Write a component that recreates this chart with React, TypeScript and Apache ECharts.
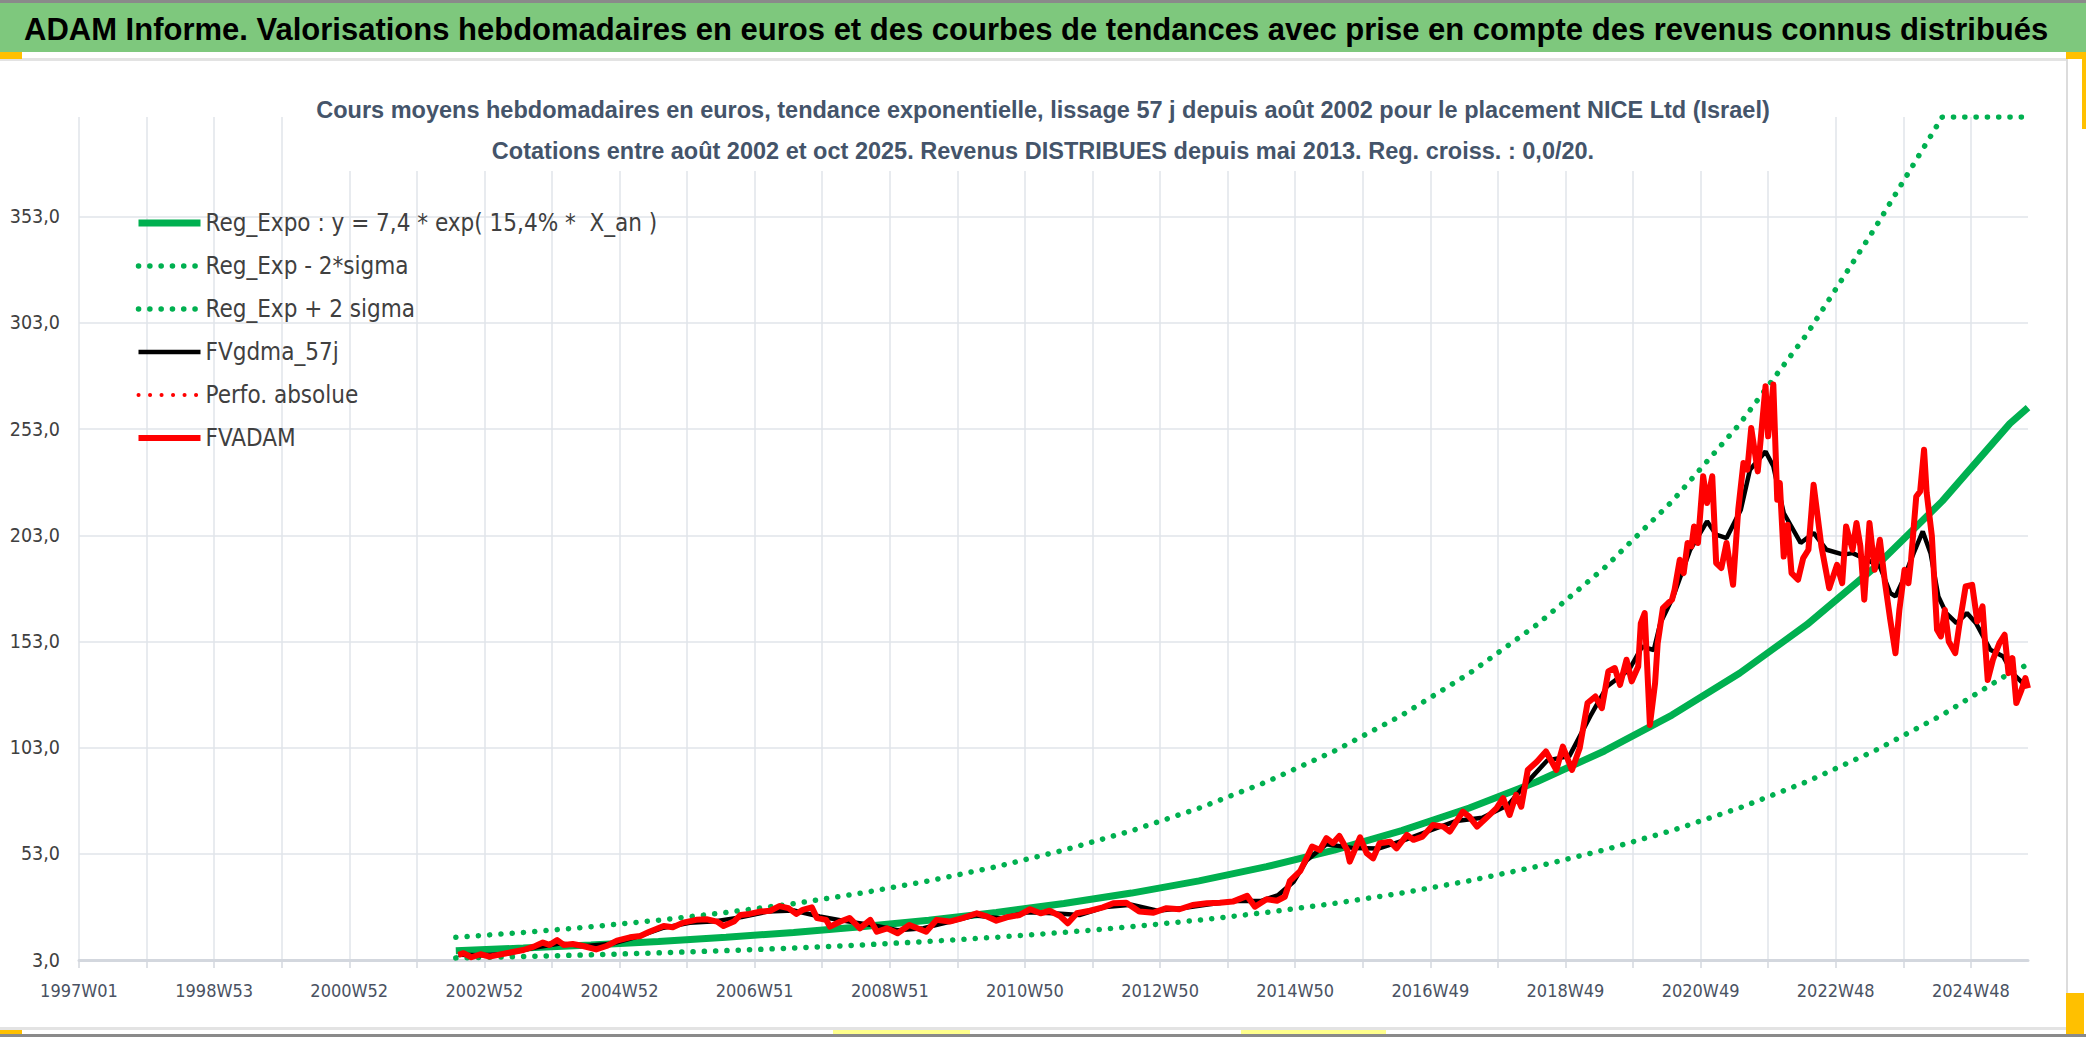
import React, { useEffect, useRef } from "react";
import * as echarts from "echarts";

const TITLE =
  "ADAM Informe. Valorisations hebdomadaires en euros et des courbes de tendances avec prise en compte des revenus connus distribués";
const SUBTITLE_1 =
  "Cours moyens hebdomadaires en euros, tendance exponentielle, lissage 57 j depuis août 2002 pour le placement NICE Ltd (Israel)";
const SUBTITLE_2 =
  "Cotations entre août 2002 et oct 2025. Revenus DISTRIBUES depuis mai 2013. Reg. croiss. : 0,0/20.";

const SERIES_NAMES = [
  "Reg_Expo : y = 7,4 * exp( 15,4% *  X_an )",
  "Reg_Exp - 2*sigma",
  "Reg_Exp + 2 sigma",
  "FVgdma_57j",
  "Perfo. absolue",
  "FVADAM",
];

// x axis: week index counted from 1997W01
const X_MAX = 1500;
const X_TICKS = [
  0, 52, 104, 156, 208, 260, 312, 364, 416, 468, 520, 572, 624, 676, 728, 780,
  832, 884, 936, 988, 1040, 1092, 1144, 1196, 1248, 1300, 1352, 1404, 1456,
];
const X_LABEL_WEEKS = [
  0, 104, 208, 312, 416, 520, 624, 728, 832, 936, 1040, 1144, 1248, 1352, 1456,
];
const X_LABELS = [
  "1997W01", "1998W53", "2000W52", "2002W52", "2004W52", "2006W51", "2008W51",
  "2010W50", "2012W50", "2014W50", "2016W49", "2018W49", "2020W49", "2022W48",
  "2024W48",
];
const Y_TICKS = [3, 53, 103, 153, 203, 253, 303, 353];

// regression curves (yearly reads)
const REG_WEEKS = [
  290, 342, 394, 446, 498, 550, 602, 654, 706, 758, 810, 862, 914, 966, 1018,
  1070, 1122, 1174, 1226, 1278, 1330, 1382, 1434, 1486, 1500,
];
const REG_VALUES = [
  7.4, 8.63, 10.07, 11.75, 13.7, 15.98, 18.64, 21.75, 25.37, 29.59, 34.52,
  40.27, 46.97, 54.79, 63.91, 74.56, 86.97, 101.45, 118.34, 138.04, 161.02,
  187.83, 219.1, 255.58, 263.1,
];
const REG_LOWER = [
  4.0, 4.66, 5.44, 6.35, 7.41, 8.64, 10.08, 11.76, 13.71, 15.99, 18.66, 21.77,
  25.39, 29.62, 34.55, 40.3, 47.01, 54.84, 63.97, 74.62, 87.04, 101.53, 118.43,
  138.15, 142.2,
];
const REG_UPPER = [
  13.69, 15.97, 18.63, 21.74, 25.35, 29.56, 34.48, 40.24, 46.93, 54.74, 63.86,
  74.5, 86.89, 101.36, 118.23, 137.94, 160.89, 187.68, 218.93, 255.37, 297.89,
  347.49, 400, 400, 400,
];

const FVADAM_WEEKS = [
  292, 296, 302, 309, 316, 329, 342, 350, 357, 362, 368, 373, 380, 388, 398,
  406, 414, 424, 432, 439, 450, 457, 465, 475, 483, 491, 496, 504, 509, 516,
  524, 532, 539, 546, 552, 557, 564, 568, 575, 578, 586, 593, 601, 609, 614,
  622, 630, 639, 652, 660, 670, 680, 691, 698, 706, 714, 724, 732, 740, 747,
  755, 761, 768, 778, 788, 796, 806, 816, 827, 837, 847, 857, 868, 878, 888,
  899, 905, 914, 922, 928, 932, 940, 949, 955, 960, 965, 970, 976, 978, 986,
  991, 996, 1001, 1009, 1014, 1022, 1027, 1034, 1042, 1050, 1055, 1065, 1070,
  1076, 1083, 1091, 1096, 1101, 1106, 1110, 1115, 1122, 1129, 1137, 1142, 1149,
  1155, 1161, 1167, 1172, 1177, 1182, 1186, 1191, 1195, 1200, 1202, 1205, 1209,
  1213, 1215, 1219, 1223, 1226, 1228, 1232, 1235, 1238, 1241, 1243, 1246, 1250,
  1253, 1257, 1260, 1264, 1268, 1273, 1277, 1281, 1284, 1287, 1292, 1298, 1300,
  1304, 1307, 1309, 1312, 1315, 1318, 1323, 1327, 1331, 1335, 1341, 1347, 1353,
  1357, 1360, 1365, 1368, 1371, 1374, 1378, 1382, 1386, 1390, 1394, 1398, 1401,
  1405, 1408, 1410, 1414, 1417, 1420, 1422, 1426, 1430, 1433, 1436, 1439, 1444,
  1447, 1452, 1457, 1461, 1465, 1469, 1473, 1478, 1482, 1485, 1488, 1491, 1495,
  1498, 1500,
];
const FVADAM_VALUES = [
  5.4, 6.2, 4.3, 5.7, 4.6, 6.2, 7.7, 9.3, 11.2, 10.1, 12.4, 10.1, 10.5, 9.6,
  8.0, 9.6, 12.1, 13.7, 14.3, 16.3, 19.0, 18.4, 20.6, 21.9, 22.2, 21.1, 19.0,
  21.1, 24.2, 24.7, 25.8, 26.2, 28.4, 27.4, 24.7, 26.6, 27.8, 22.7, 21.9, 18.7,
  21.1, 22.8, 17.9, 21.9, 16.3, 17.9, 15.6, 19.5, 16.3, 21.9, 21.1, 22.7, 25.0,
  23.7, 21.5, 23.1, 24.2, 26.9, 25.0, 26.2, 23.7, 20.3, 25.0, 26.2, 27.8, 29.7,
  30.0, 25.8, 25.3, 27.4, 26.9, 28.9, 29.7, 30.0, 30.5, 33.2, 28.1, 31.6, 30.9,
  32.8, 40.3, 45.0, 56.4, 54.8, 60.4, 58.0, 61.4, 54.8, 49.3, 60.8, 53.3, 50.9,
  58.0, 58.7, 55.6, 61.9, 59.6, 61.1, 66.6, 65.8, 63.5, 72.9, 70.5, 65.8, 69.8,
  74.5, 79.2, 71.3, 80.8, 75.2, 92.5, 96.4, 101.2, 92.5, 103.5, 92.5, 102.8,
  124.0, 127.1, 121.6, 138.9, 140.5, 132.6, 144.4, 134.2, 141.2, 161.6, 166.4,
  113.7, 133.4, 152.2, 168.7, 171.1, 172.7, 177.4, 191.5, 185.2, 199.4, 197.8,
  207.2, 199.4, 230.8, 218.2, 230.8, 189.9, 187.6, 199.4, 179.7, 215.1, 237.1,
  233.9, 253.5, 233.1, 273.2, 249.6, 274.0, 219.8, 227.6, 193.0, 208.0, 185.2,
  182.1, 192.3, 196.2, 226.8, 197.8, 178.1, 189.1, 180.5, 207.2, 196.2, 208.8,
  197.8, 172.7, 208.8, 186.8, 200.9, 180.5, 163.2, 147.5, 167.9, 186.8, 180.5,
  191.5, 221.3, 223.7, 243.3, 223.1, 202.7, 158.5, 155.4, 167.9, 153.0, 147.5,
  160.1, 178.9, 179.7, 162.4, 169.5, 134.9, 144.4, 152.2, 156.2, 138.1, 145.2,
  124.0, 130.2, 135.8, 131.0,
];

const FVGDMA_WEEKS = [
  292, 310, 330, 350, 370, 390, 410, 430, 450, 470, 490, 510, 530, 550, 570,
  590, 610, 630, 650, 670, 690, 710, 730, 750, 770, 790, 810, 830, 850, 870,
  890, 910, 923, 935, 945, 960, 980, 1000, 1020, 1040, 1060, 1080, 1100, 1115,
  1130, 1147, 1163, 1176, 1193, 1203, 1212, 1217, 1227, 1240, 1253, 1260, 1268,
  1279, 1286, 1298, 1304, 1312, 1325, 1335, 1345, 1358, 1365, 1376, 1386, 1394,
  1398, 1404, 1412, 1419, 1425, 1431, 1437, 1445, 1453, 1460, 1471, 1481, 1488,
  1496, 1500,
];
const FVGDMA_VALUES = [
  5.5, 5.2, 6.0, 8.8, 10.8, 9.6, 10.6, 14.0, 18.2, 20.5, 21.3, 23.2, 25.8, 26.3,
  23.5, 21.3, 19.5, 17.0, 18.0, 21.0, 24.0, 22.6, 25.5, 25.0, 24.2, 28.0, 29.0,
  26.2, 27.5, 29.2, 30.8, 30.8, 33.6, 40.0, 50.0, 57.5, 55.8, 55.5, 59.5, 64.0,
  68.5, 70.0, 76.0, 87.0, 97.0, 99.0, 117.7, 131.8, 139.7, 150.6, 149.0, 161.6,
  174.2, 196.2, 209.6, 203.3, 201.7, 215.1, 233.9, 242.5, 235.5, 213.5, 199.4,
  204.1, 196.2, 193.9, 194.6, 191.5, 188.3, 175.8, 174.2, 182.1, 194.6, 204.8,
  194.6, 174.2, 166.4, 161.6, 166.4, 161.6, 149.1, 145.9, 138.1, 133.4, 132.0,
];

const PERFO_WEEKS: number[] = [];
const PERFO_VALUES: number[] = [];

const FONT = '"Liberation Sans", Arial, sans-serif';
const FONT_N =
  '"Liberation Sans Narrow", "Arial Narrow", "DejaVu Sans Condensed", sans-serif';

const zip = (xs: number[], ys: number[]) => xs.map((x, i) => [x, ys[i]]);

const labelFor = (v: number) => {
  const i = X_LABEL_WEEKS.indexOf(Math.round(v));
  return i >= 0 ? X_LABELS[i] : "";
};

const GREEN = "#00b050";
const RED = "#ff0000";

const STYLE_REG = { color: GREEN, width: 7, type: "solid" };
const STYLE_BAND = { color: GREEN, width: 5.5, type: [0.1, 11.2], cap: "round" };
const STYLE_GDMA = { color: "#000000", width: 4.5, type: "solid" };
const STYLE_PERFO = { color: RED, width: 4, type: [0.1, 11.4], cap: "round" };
const STYLE_ADAM = { color: RED, width: 6, type: "solid", join: "round" };
const LEGEND_STYLES = [STYLE_REG, STYLE_BAND, STYLE_BAND, STYLE_GDMA, STYLE_PERFO, STYLE_ADAM];

function buildOption(): any {
  const rect = (x: number, y: number, w: number, h: number, fill: string) => ({
    type: "rect",
    shape: { x, y, width: w, height: h },
    style: { fill },
    silent: true,
    z: 0,
  });
  return {
    animation: false,
    backgroundColor: "#ffffff",
    graphic: {
      elements: [
        rect(0, 0, 2086, 52, "#7ec87d"),
        rect(0, 0, 2086, 3, "#8a8a8a"),
        rect(0, 58, 2066, 3, "#e3e3e3"),
        rect(0, 1027, 2066, 3, "#e3e3e3"),
        rect(0, 1034, 2086, 3, "#8a8a8a"),
        rect(2066, 58, 2, 935, "#dcdcdc"),
        rect(0, 52, 22, 7, "#ffc000"),
        rect(2066, 52, 20, 7, "#ffc000"),
        rect(2082, 59, 4, 70, "#ffc000"),
        rect(2066, 993, 18, 41, "#ffc000"),
        rect(0, 1030, 22, 4, "#ffc000"),
        rect(833, 1030, 137, 4, "#ffff8c"),
        rect(1241, 1030, 145, 4, "#ffff8c"),
      ],
    },
    title: [
      {
        text: TITLE,
        left: 24,
        top: 10,
        padding: 0,
        textAlign: "left",
        textStyle: {
          fontFamily: FONT,
          fontWeight: "bold",
          fontSize: 31,
          lineHeight: 38,
          color: "#000000",
        },
      },
      {
        text: SUBTITLE_1 + "\n" + SUBTITLE_2,
        left: "center",
        top: 89,
        padding: [0, 22],
        backgroundColor: "#ffffff",
        textStyle: {
          fontFamily: FONT,
          fontWeight: "bold",
          fontSize: 23.5,
          lineHeight: 41,
          color: "#44546a",
        },
      },
    ],
    legend: {
      orient: "vertical",
      left: 130,
      top: 203,
      itemWidth: 62,
      itemHeight: 14,
      itemGap: 13,
      selectedMode: false,
      data: SERIES_NAMES.map((name, i) => ({
        name,
        lineStyle: LEGEND_STYLES[i],
        itemStyle: { opacity: 0 },
      })),
      itemStyle: { opacity: 0 },
      textStyle: {
        fontFamily: FONT_N,
        fontSize: 24,
        lineHeight: 30,
        color: "#404040",
      },
    },
    grid: {
      left: 79,
      right: 58,
      top: 117,
      bottom: 77,
      containLabel: false,
      outerBoundsMode: "none",
    },
    xAxis: {
      type: "value",
      min: 0,
      max: X_MAX,
      axisLine: {
        show: true,
        onZero: false,
        lineStyle: { color: "#d3d7de", width: 3 },
      },
      axisTick: {
        show: true,
        length: 8,
        customValues: X_TICKS,
        lineStyle: { color: "#d3d7de", width: 1.5 },
      },
      axisLabel: {
        customValues: X_LABEL_WEEKS,
        formatter: (v: number) => labelFor(v),
        margin: 21,
        fontFamily: FONT_N,
        fontSize: 18,
        color: "#4a5262",
      },
      splitLine: { show: true, lineStyle: { color: "#e1e4ea", width: 1.5 } },
    },
    yAxis: {
      type: "value",
      min: 3,
      max: 400,
      axisLine: { show: false },
      axisTick: { show: false, customValues: Y_TICKS },
      axisLabel: {
        customValues: Y_TICKS,
        formatter: (v: number) => v.toFixed(1).replace(".", ","),
        margin: 19,
        fontFamily: FONT_N,
        fontSize: 19.5,
        color: "#404040",
      },
      splitLine: { show: true, lineStyle: { color: "#e1e4ea", width: 1.5 } },
    },
    series: [
      {
        name: SERIES_NAMES[2],
        type: "line",
        data: zip(REG_WEEKS, REG_UPPER),
        symbol: "none",
        itemStyle: { color: GREEN },
        lineStyle: STYLE_BAND,
        z: 2,
      },
      {
        name: SERIES_NAMES[1],
        type: "line",
        data: zip(REG_WEEKS, REG_LOWER),
        symbol: "none",
        itemStyle: { color: GREEN },
        lineStyle: STYLE_BAND,
        z: 2,
      },
      {
        name: SERIES_NAMES[0],
        type: "line",
        data: zip(REG_WEEKS, REG_VALUES),
        symbol: "none",
        itemStyle: { color: GREEN },
        lineStyle: STYLE_REG,
        z: 3,
      },
      {
        name: SERIES_NAMES[3],
        type: "line",
        data: zip(FVGDMA_WEEKS, FVGDMA_VALUES),
        symbol: "none",
        itemStyle: { color: "#000000" },
        lineStyle: STYLE_GDMA,
        z: 4,
      },
      {
        name: SERIES_NAMES[4],
        type: "line",
        data: zip(PERFO_WEEKS, PERFO_VALUES),
        symbol: "none",
        itemStyle: { color: RED },
        lineStyle: STYLE_PERFO,
        z: 5,
      },
      {
        name: SERIES_NAMES[5],
        type: "line",
        data: zip(FVADAM_WEEKS, FVADAM_VALUES),
        symbol: "none",
        itemStyle: { color: RED },
        lineStyle: STYLE_ADAM,
        z: 6,
      },
    ],
  };
}

export default function App() {
  const ref = useRef<HTMLDivElement>(null);
  useEffect(() => {
    if (!ref.current) return;
    const chart = echarts.init(ref.current, null, { renderer: "svg" });
    chart.setOption(buildOption());
    return () => chart.dispose();
  }, []);
  return (
    <div
      ref={ref}
      style={{ position: "fixed", left: 0, top: 0, width: 2086, height: 1037 }}
    />
  );
}
